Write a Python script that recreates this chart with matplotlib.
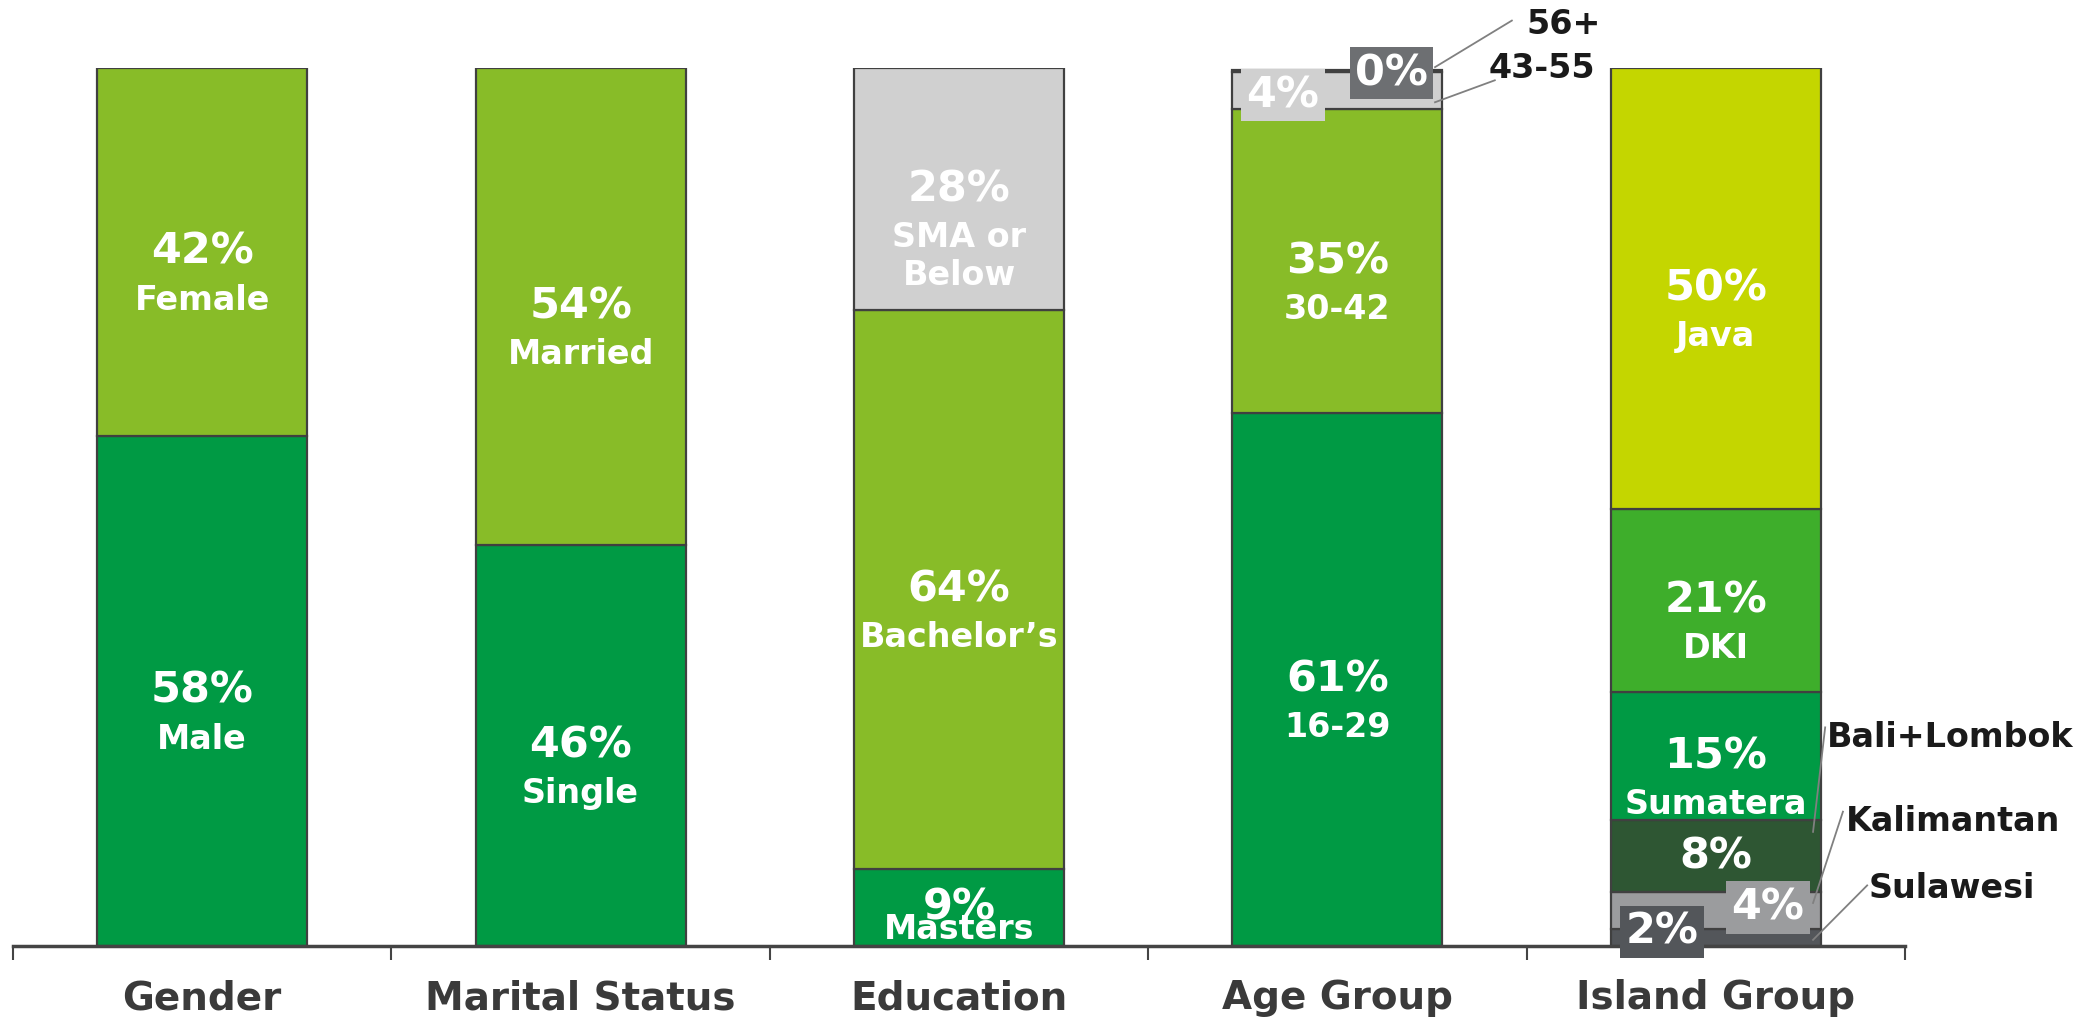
import numpy as np
import matplotlib.pyplot as plt

categories = ['Gender', 'Marital Status', 'Education', 'Age Group', 'Island Group']

gender_vals = [58.1, 41.9]
gender_names = ['Male', 'Female']

marital_vals = [45.7, 54.3]
marital_names = ['Single', 'Married']

edu_vals = [8.8, 63.6, 27.6]
edu_names = ['Masters', 'Bachelor\u2019s', 'SMA or\nBelow']

age_vals = [60.7, 34.6, 4.2, 0.3]
age_names = ['16-29', '30-42', '43-55', '56+']

island_vals = [1.9, 4.2, 8.2, 14.6, 20.9, 50.2]
island_names = ['Sulawesi', 'Kalimantan', 'Bali+Lombok', 'Sumatera', 'DKI', 'Java']

DARK_GREEN = '#009A44'
LIGHT_GREEN = '#88BC28'
LIGHT_GREY = '#D0D0D0'
EDGE = '#404040'

gender_colors = [DARK_GREEN, LIGHT_GREEN]
marital_colors = [DARK_GREEN, LIGHT_GREEN]
edu_colors = [DARK_GREEN, LIGHT_GREEN, LIGHT_GREY]
age_colors = [DARK_GREEN, LIGHT_GREEN, LIGHT_GREY, '#6D6F72']
island_colors = ['#53565A', '#9B9C9E', '#2E5633', DARK_GREEN, '#3EAE2B', '#C4D600']

groups = [
    (gender_vals, gender_names, gender_colors),
    (marital_vals, marital_names, marital_colors),
    (edu_vals, edu_names, edu_colors),
    (age_vals, age_names, age_colors),
    (island_vals, island_names, island_colors),
]

# segments whose labels sit outside the bar
outside = {'43-55', '56+', 'Sulawesi', 'Kalimantan', 'Bali+Lombok'}
no_name_inside = {'Bali+Lombok'}

fig = plt.figure(figsize=(20.96, 10.18), dpi=100)
ax = fig.add_axes([13 / 2096, 72 / 1018, 1892 / 2096, 878 / 1018])

bar_w = 0.555
PCT_SIZE = 31
NAME_SIZE = 24

for i, (vals, names, colors) in enumerate(groups):
    bottom = 0
    for v, name, c in zip(vals, names, colors):
        ax.bar(i, v, bar_w, bottom=bottom, color=c, edgecolor=EDGE,
               linewidth=1.6, zorder=2)
        mid = bottom + v / 2
        if name not in outside or name in no_name_inside:
            ax.annotate(f'{v:.0f}%', (i, mid), ha='center', va='center',
                        color='white', fontsize=PCT_SIZE, fontweight='bold',
                        zorder=4)
        if name not in outside:
            gap = 4 if name == 'Masters' else 23
            ax.annotate(name, (i, mid), xytext=(0, -gap),
                        textcoords='offset points', ha='center', va='top',
                        color='white', fontsize=NAME_SIZE, fontweight='bold',
                        linespacing=1.2, zorder=4)
        bottom += v


def boxed(val, x, y, bg):
    ax.text(x, y, f'{val:.0f}%', ha='center', va='center', color='white',
            fontsize=PCT_SIZE, fontweight='bold', zorder=6,
            bbox=dict(boxstyle='square,pad=0.12', fc=bg, ec='none'))


def callout(name, tx, ty, x0, y0, x1, y1):
    ax.plot([x0, x1], [y0, y1], color='#808080', lw=1.3, zorder=5,
            clip_on=False)
    ax.text(tx, ty, name, ha='left', va='center', color='#1a1a1a',
            fontsize=NAME_SIZE, fontweight='bold', zorder=6)


# Age group callouts
boxed(age_vals[2], 2.856, 96.9, age_colors[2])
boxed(age_vals[3], 3.144, 99.4, age_colors[3])
callout(age_names[3], 3.50, 105.0, 3.461, 105.4, 3.258, 100.1)
callout(age_names[2], 3.40, 100.0, 3.416, 98.6, 3.258, 96.1)

# Island group callouts
boxed(island_vals[1], 4.138, 4.4, island_colors[1])
boxed(island_vals[0], 3.858, 1.6, island_colors[0])
callout(island_names[2], 4.294, 23.7, 4.289, 24.9, 4.257, 13.0)
callout(island_names[1], 4.344, 14.2, 4.336, 15.3, 4.257, 4.9)
callout(island_names[0], 4.405, 6.5, 4.400, 6.9, 4.257, 0.7)

ax.set_xlim(-0.5, 4.5)
ax.set_ylim(0, 100)
for s in ['top', 'left', 'right']:
    ax.spines[s].set_visible(False)
ax.spines['bottom'].set_color('#444444')
ax.spines['bottom'].set_linewidth(2.5)
ax.set_yticks([])

ax.set_xticks(range(len(categories)))
ax.set_xticklabels(categories, fontsize=28, fontweight='bold', color='#3a3a3a')
ax.tick_params(axis='x', which='major', length=0, pad=24)
ax.set_xticks(np.arange(-0.5, 5, 1), minor=True)
ax.tick_params(axis='x', which='minor', length=10, width=1.5,
               color='#444444', direction='out')

fig.savefig('out.png', dpi=100)
